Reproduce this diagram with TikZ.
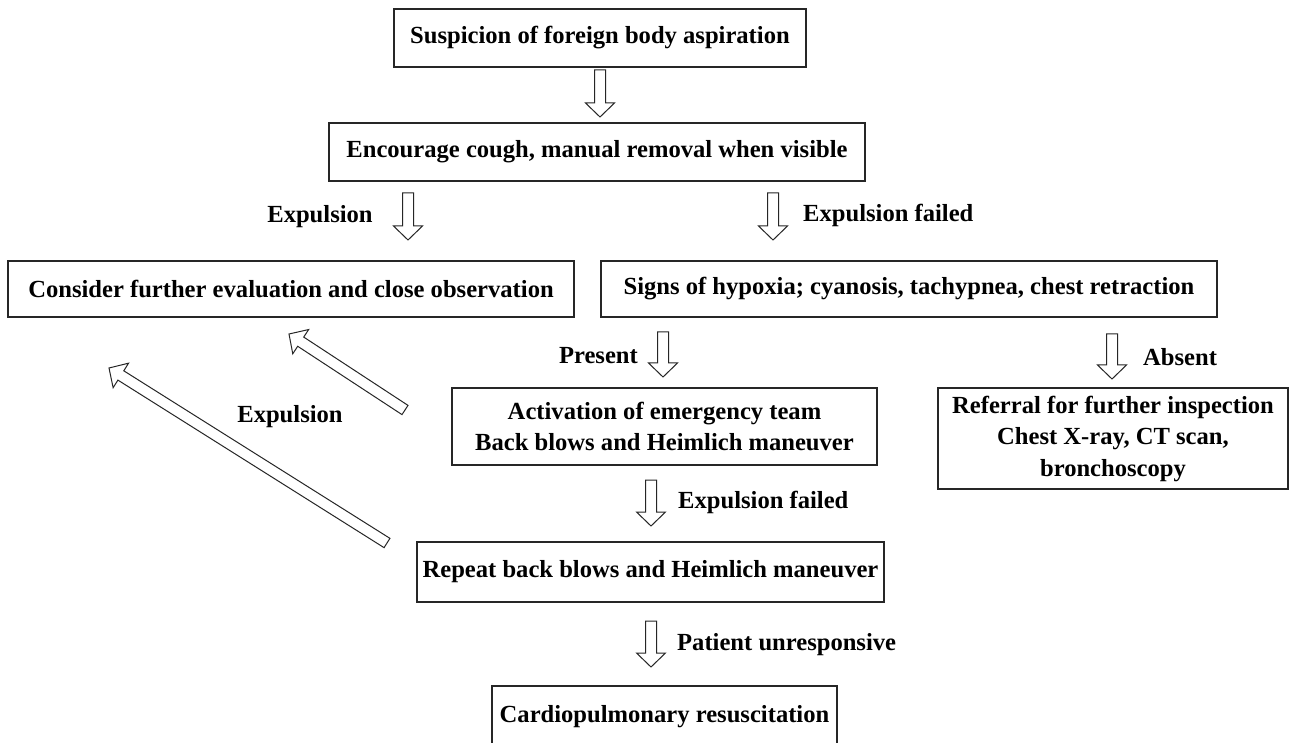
\documentclass[tikz,border=0pt]{standalone}
\usepackage{fontspec}
\setmainfont{Liberation Serif}
\usetikzlibrary{calc}
\tikzset{
  box/.style={draw=black!85, line width=1.3pt, inner sep=0pt, align=center,
    font=\fontsize{24.6}{31.5}\selectfont\bfseries},
  lbl/.style={inner sep=0pt, font=\fontsize{24.6}{31.5}\selectfont\bfseries},
  barrow/.style={draw=black!85, line width=1pt, fill=white, line join=miter}
}
\newcommand{\blockarrow}[2]{%
  \coordinate (H) at ($(#2)!14pt!(#1)$);
  \path[barrow] ($(#1)!5.5pt!90:(#2)$) -- ($(H)!5.5pt!90:(#2)$) -- ($(H)!14.5pt!90:(#2)$)
    -- (#2) -- ($(H)!14.5pt!-90:(#2)$) -- ($(H)!5.5pt!-90:(#2)$) -- ($(#1)!5.5pt!-90:(#2)$) -- cycle;
}
\begin{document}
\begin{tikzpicture}[x=1pt,y=-1pt]
\useasboundingbox (0,0) rectangle (1291,743);
\fill[white] (0,0) rectangle (1291,743);
\clip (0,0) rectangle (1291,743);

% boxes
\node[box, minimum width=412pt, minimum height=58pt] (b1) at (600,38) {Suspicion of foreign body aspiration};
\node[box, minimum width=536pt, minimum height=58pt] (b2) at (597,152) {Encourage cough, manual removal when visible};
\node[box, minimum width=566pt, minimum height=56pt] (b3) at (291,289) {Consider further evaluation and close observation};
\node[box, minimum width=616pt, minimum height=56pt] (b4) at (909,289) {Signs of hypoxia; cyanosis, tachypnea, chest retraction};
\node[box, minimum width=425pt, minimum height=77pt] (b5) at (664.5,426.5) {Activation of emergency team\\Back blows and Heimlich maneuver};
\node[box, minimum width=350pt, minimum height=101pt] (b6) at (1113,438.5) {Referral for further inspection\\Chest X-ray, CT scan,\\bronchoscopy};
\node[box, minimum width=467pt, minimum height=60pt] (b7) at (650.5,572) {Repeat back blows and Heimlich maneuver};
\node[box, minimum width=345pt, minimum height=62pt] (b8) at (664.5,717) {Cardiopulmonary resuscitation};

% arrow end points
\coordinate (a1s) at (600,70);
\coordinate (a1e) at (600,117);
\coordinate (a2s) at (408,193);
\coordinate (a2e) at (408,240);
\coordinate (a3s) at (773,193);
\coordinate (a3e) at (773,240);
\coordinate (a4s) at (663,332);
\coordinate (a4e) at (663,377);
\coordinate (a5s) at (1112,334);
\coordinate (a5e) at (1112,379);
\coordinate (a6s) at (651,480);
\coordinate (a6e) at (651,526);
\coordinate (a7s) at (651,621);
\coordinate (a7e) at (651,667);
\coordinate (d1s) at (405,410);
\coordinate (d1e) at (289,334);
\coordinate (d2s) at (387,543);
\coordinate (d2e) at (109,368);

\blockarrow{a1s}{a1e}
\blockarrow{a2s}{a2e}
\blockarrow{a3s}{a3e}
\blockarrow{a4s}{a4e}
\blockarrow{a5s}{a5e}
\blockarrow{a6s}{a6e}
\blockarrow{a7s}{a7e}
\blockarrow{d1s}{d1e}
\blockarrow{d2s}{d2e}

% labels
\node[lbl] (l2) at (320,217) {Expulsion};
\node[lbl, anchor=west] (l3) at (803,215) {Expulsion failed};
\node[lbl, anchor=east] (l4) at (638,356) {Present};
\node[lbl, anchor=west] (l5) at (1143,357) {Absent};
\node[lbl] (ld) at (290,417) {Expulsion};
\node[lbl, anchor=west] (l6) at (678,502) {Expulsion failed};
\node[lbl, anchor=west] (l7) at (677,645) {Patient unresponsive};
\end{tikzpicture}
\end{document}
